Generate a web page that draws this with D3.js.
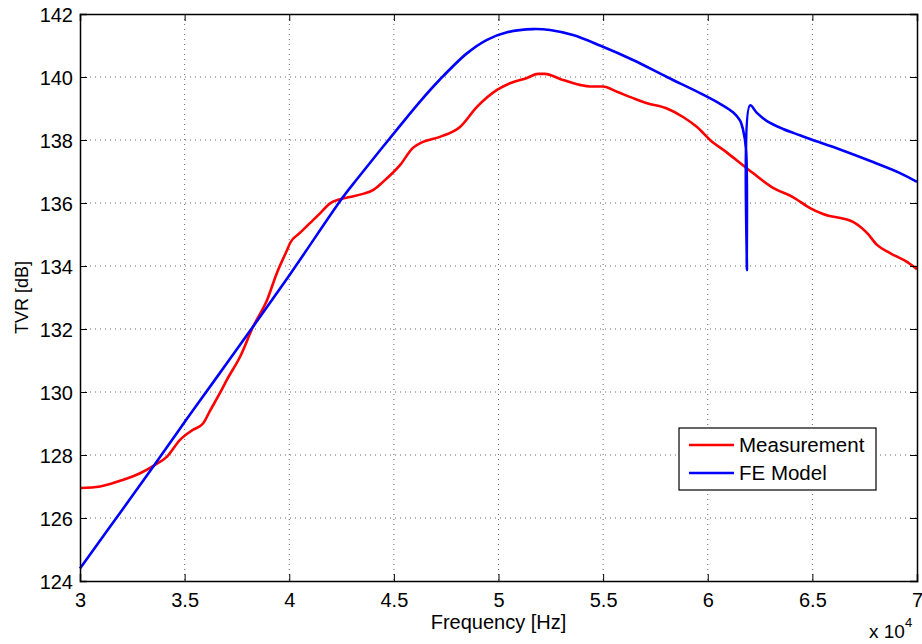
<!DOCTYPE html>
<html lang="en">
  <head>
    <meta charset="utf-8">
    <title>TVR</title>
    <style>
      body { margin: 0; background: #fff; }
      text { font-family: "Liberation Sans", Arial, sans-serif; fill: #000; }
      .grid line { stroke: #666; stroke-width: 1px; stroke-dasharray: 1,4; }
      .curve { fill: none; stroke-width: 2.6px; stroke-linejoin: round; }
    </style>
  </head>
  <body>
<script src="https://d3js.org/d3.v7.min.js"></script>
<script>

// Measured TVR, frequency in Hz
const measFreq = [30000, 30960, 31910, 32870, 33490, 34160, 34780, 35400, 35880, 36210,
  36690, 37030, 37650, 38270, 38940, 39410, 39890, 40040, 40510, 40990, 41470, 41950,
  42430, 42900, 43520, 44000, 44480, 45290, 45910, 46390, 47200, 48160, 48970, 49930,
  50550, 51360, 51890, 52220, 52940, 53890, 54370, 54990, 55660, 56430, 57100, 58050,
  58820, 59490, 60110, 60920, 61680, 62160, 63120, 64070, 64890, 65510, 66940, 67610,
  68090, 68710, 69520, 70000]
const measTVR = [126.95, 127.0, 127.18, 127.42, 127.65, 127.95, 128.48, 128.8, 129.0, 129.4,
  129.97, 130.4, 131.12, 132.07, 132.92, 133.78, 134.5, 134.73, 135.05, 135.36, 135.67, 135.99,
  136.12, 136.19, 136.29, 136.41, 136.67, 137.2, 137.75, 137.94, 138.1, 138.41, 139.05, 139.59,
  139.8, 139.97, 140.1, 140.1, 139.94, 139.75, 139.7, 139.7, 139.53, 139.33, 139.17, 139.0,
  138.73, 138.41, 138.0, 137.6, 137.2, 136.95, 136.48, 136.19, 135.84, 135.65, 135.4, 135.05,
  134.67, 134.41, 134.13, 133.9]

// FE model TVR
const feFreq = [30000, 32390, 33680, 35110, 36550, 37650, 40040, 42570, 43290, 45290,
  46250, 47200, 48490, 49450, 50410, 51650, 52460, 53560, 54850, 56430, 58050, 59630,
  60590, 61210, 61540, 61680, 61830, 61870, 62020, 62350, 62830, 63600, 64410, 64890,
  66320, 67900, 69190, 70000]
const feTVR = [124.4, 126.6, 127.8, 129.15, 130.48, 131.5, 133.74, 136.19, 136.8, 138.45,
  139.22, 139.92, 140.75, 141.18, 141.42, 141.52, 141.49, 141.33, 141.0, 140.54,
  140.0, 139.49, 139.15, 138.88, 138.62, 138.35, 137.7, 133.87, 139.1, 138.86, 138.6, 138.35, 138.15, 138.03,
  137.7, 137.3, 136.95, 136.67]

const xTicks = [30000, 35000, 40000, 45000, 50000, 55000, 60000, 65000, 70000]
const yTicks = [124, 126, 128, 130, 132, 134, 136, 138, 140, 142]
const seriesNames = ["Measurement", "FE Model"]
const seriesColors = ["#ff0000", "#0000ff"]

const W = 922, H = 644
const margin = {top: 14, right: 5, bottom: 63, left: 80}
const x = d3.scaleLinear().domain([30000, 70000]).range([margin.left, W - margin.right])
const y = d3.scaleLinear().domain([124, 142]).range([H - margin.bottom, margin.top])

const svg = d3.select("body").append("svg").attr("width", W).attr("height", H)
svg.append("rect").attr("width", W).attr("height", H).attr("fill", "#fff")

// grid
const grid = svg.append("g").attr("class", "grid")
grid.selectAll(".gx").data(xTicks.slice(1, -1)).enter().append("line")
  .attr("x1", d => x(d)).attr("x2", d => x(d))
  .attr("y1", y(142)).attr("y2", y(124))
grid.selectAll(".gy").data(yTicks.slice(1, -1)).enter().append("line")
  .attr("x1", x(30000)).attr("x2", x(70000))
  .attr("y1", d => y(d)).attr("y2", d => y(d))

// curves: measurement monotone, FE model centripetal catmull-rom (smooth, keeps the dip)
const curves = [d3.curveMonotoneX, d3.curveCatmullRom.alpha(0.5)]
const series = [d3.zip(measFreq, measTVR), d3.zip(feFreq, feTVR)]
svg.selectAll(".curve").data(series).enter().append("path")
  .attr("class", "curve")
  .attr("stroke", (d, i) => seriesColors[i])
  .attr("d", (d, i) => d3.line().curve(curves[i])(d.map(p => [x(p[0]), y(p[1])])))

// axes (ticks inward, on all four sides)
const fmtX = d => d3.format("")(d / 10000)
const axB = svg.append("g").attr("transform", `translate(0,${y(124)})`)
  .call(d3.axisBottom(x).tickValues(xTicks).tickSize(-7).tickPadding(12).tickFormat(fmtX))
const axT = svg.append("g").attr("transform", `translate(0,${y(142)})`)
  .call(d3.axisTop(x).tickValues(xTicks).tickSize(-7).tickFormat(""))
const axL = svg.append("g").attr("transform", `translate(${x(30000)},0)`)
  .call(d3.axisLeft(y).tickValues(yTicks).tickSize(-7).tickPadding(7))
const axR = svg.append("g").attr("transform", `translate(${x(70000)},0)`)
  .call(d3.axisRight(y).tickValues(yTicks).tickSize(-7).tickFormat(""))
;[axB, axT, axL, axR].forEach(g => {
  g.select(".domain").attr("stroke", "#000").attr("stroke-width", 1.5)
  g.selectAll(".tick line").attr("stroke", "#000").attr("stroke-width", 1)
  g.selectAll("text").attr("font-size", 20).attr("font-family", '"Liberation Sans", Arial, sans-serif').attr("fill", "#000")
})
axL.selectAll(".tick text").attr("dy", "0.35em")

// axis labels
svg.append("text").attr("x", x(50000)).attr("y", 629).attr("text-anchor", "middle")
  .attr("font-size", 20).text("Frequency [Hz]")
svg.append("text").attr("transform", `translate(28,${(y(124) + y(142)) / 2}) rotate(-90)`)
  .attr("text-anchor", "middle").attr("font-size", 18).text("TVR [dB]")
const mult = svg.append("text").attr("x", 869).attr("y", 638).attr("font-size", 19)
mult.append("tspan").text("x 10")
mult.append("tspan").attr("dy", -11).attr("font-size", 13).text("4")

// legend
const lg = svg.append("g").attr("transform", "translate(679,428)")
lg.append("rect").attr("width", 197).attr("height", 62).attr("fill", "#fff")
  .attr("stroke", "#000").attr("stroke-width", 1.2)
lg.selectAll(".ll").data(seriesNames).enter().append("line")
  .attr("x1", 10).attr("x2", 55)
  .attr("y1", (d, i) => 17 + i * 28).attr("y2", (d, i) => 17 + i * 28)
  .attr("stroke", (d, i) => seriesColors[i]).attr("stroke-width", 2.6)
lg.selectAll(".lt").data(seriesNames).enter().append("text")
  .attr("x", 60).attr("y", (d, i) => 17 + i * 28).attr("dy", "0.35em")
  .attr("font-size", 20.5).text(d => d)

</script>
  </body>
</html>
